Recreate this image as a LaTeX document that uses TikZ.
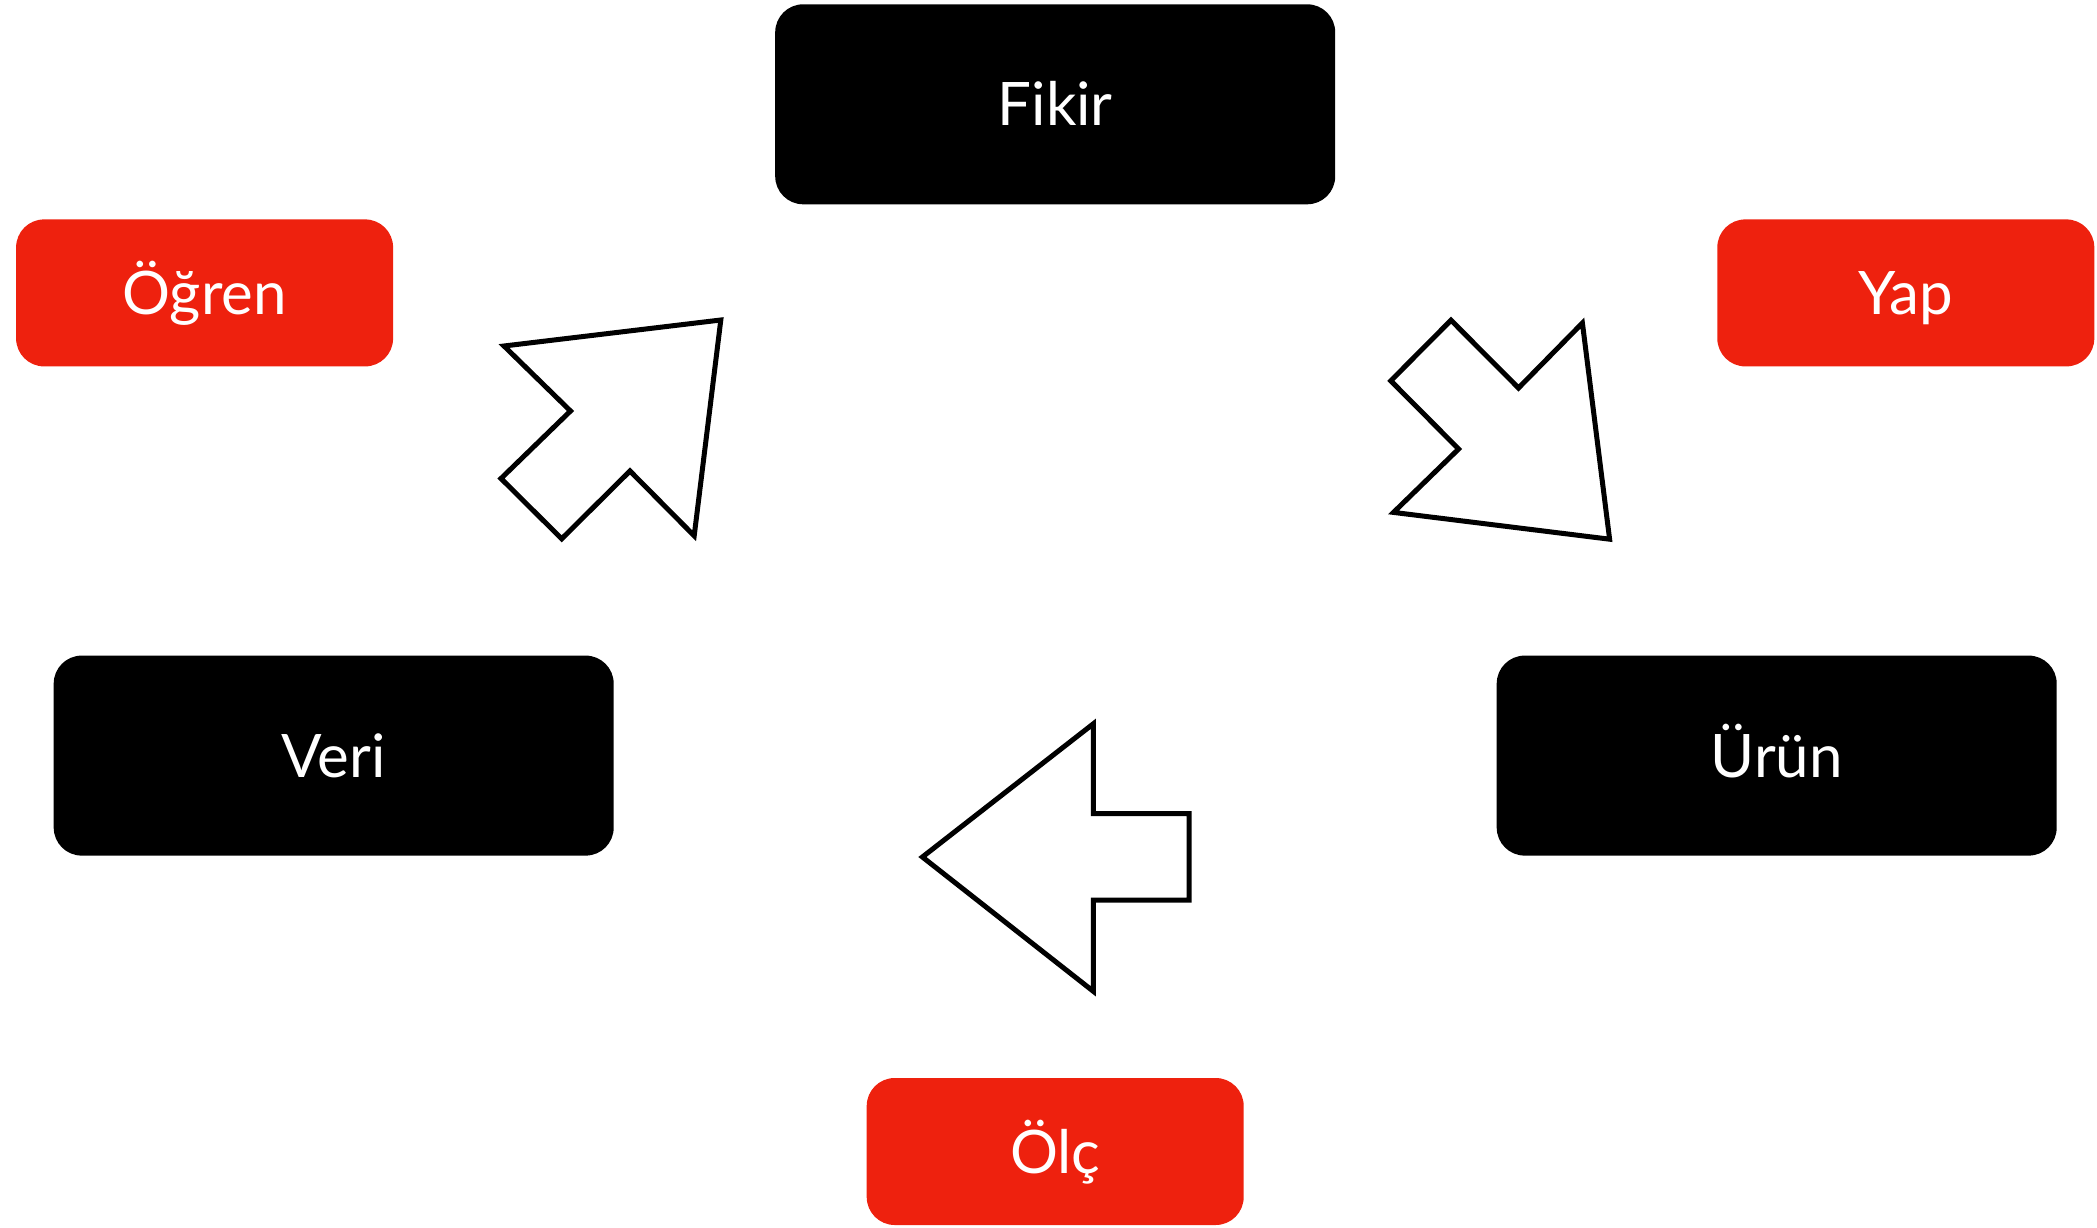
\documentclass[tikz,border=0pt]{standalone}
\usepackage{fontspec}
\setmainfont{Lato}
\definecolor{boxred}{HTML}{EE210E}
\begin{document}
\begin{tikzpicture}[x=1pt,y=-1pt,
  box/.style={rounded corners=28pt, inner sep=0pt, text=white,
    font=\fontsize{60}{72}\selectfont, text height=43pt, text depth=0pt},
  bigbox/.style={box, fill=black, minimum width=560pt, minimum height=200pt},
  redbox/.style={box, fill=boxred, minimum width=377pt, minimum height=147pt},
  bigarrow/.style={draw=black, fill=white, line width=5pt, line join=miter}]
\useasboundingbox (0,0) rectangle (2097,1228);
\node[bigbox] (fikir) at (1055.2,104.3) {Fikir};
\node[bigbox] (veri) at (333.7,755.6) {Veri};
\node[bigbox] (urun) at (1776.7,755.6) {Ürün};
\node[redbox] (ogren) at (204.6,292.9) {Öğren};
\node[redbox] (yap) at (1905.8,292.9) {Yap};
\node[redbox] (olc) at (1055.2,1151.5) {Ölç};
% arrow Veri -> Fikir
\draw[bigarrow] (720.8,320) -- (504,346) -- (570.5,411) -- (501,478.5) -- (561.7,538.8) -- (630,471) -- (694.2,535.8) -- cycle;
% arrow Fikir -> Urun
\draw[bigarrow] (1451,320.2) -- (1518.5,388) -- (1582.4,323) -- (1609.6,539.2) -- (1393.5,512.4) -- (1458.6,449) -- (1390.8,380.8) -- cycle;
% arrow Urun -> Veri
\draw[bigarrow] (922.4,857) -- (1093.3,723.8) -- (1093.3,813.7) -- (1189.2,813.7) -- (1189.2,900) -- (1093.3,900) -- (1093.3,991.3) -- cycle;
\end{tikzpicture}
\end{document}
